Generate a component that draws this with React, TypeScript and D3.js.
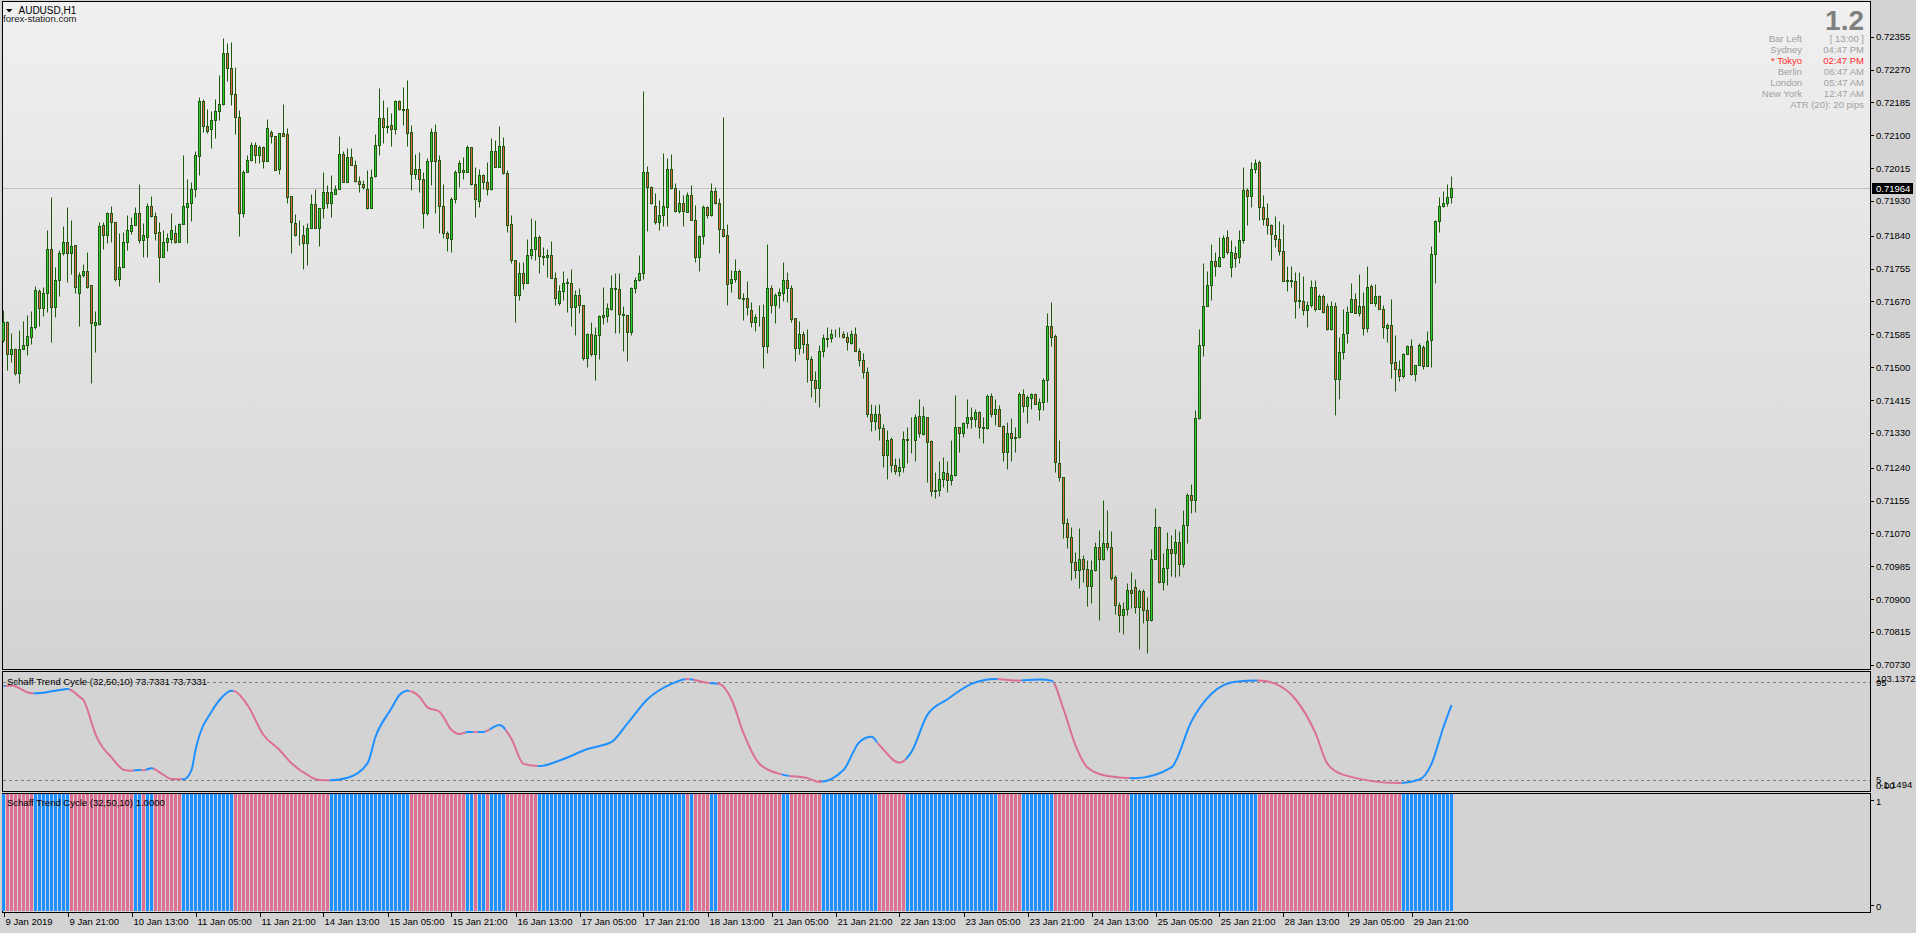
import React, { useEffect } from 'react';
import * as d3 from 'd3';

// ---------- DATA ----------
const symbolTitle = 'AUDUSD,H1';
const brandText = 'forex-station.com';

const opens = [
0.71570,0.71617,0.71535,0.71546,0.71484,0.71548,0.71557,0.71577,0.71603,0.71696,
0.71654,0.71691,0.71805,0.71656,0.71725,0.71796,0.71825,0.71796,0.71815,0.71691,
0.71738,0.71748,0.71712,0.71610,0.71613,0.71867,0.71842,0.71898,0.71876,0.71727,
0.71758,0.71825,0.71853,0.71867,0.71898,0.71830,0.71837,0.71917,0.71892,0.71849,
0.71785,0.71825,0.71832,0.71848,0.71825,0.71870,0.71915,0.71926,0.71962,0.72047,
0.72188,0.72125,0.72115,0.72139,0.72162,0.72182,0.72314,0.72275,0.72206,0.72146,
0.71899,0.72005,0.72036,0.72074,0.72049,0.72069,0.72034,0.72108,0.72098,0.72013,
0.72105,0.72102,0.71944,0.71874,0.71841,0.71843,0.71822,0.71861,0.71923,0.71861,
0.71912,0.71952,0.71925,0.71949,0.71960,0.72051,0.71980,0.72043,0.72024,0.71982,
0.71973,0.71960,0.71913,0.71995,0.72074,0.72144,0.72122,0.72126,0.72117,0.72188,
0.72167,0.72167,0.72108,0.71999,0.72012,0.71986,0.71898,0.72034,0.72109,0.72035,
0.71918,0.71846,0.71831,0.71934,0.72004,0.72010,0.72006,0.72069,0.71973,0.71931,
0.71996,0.71980,0.71960,0.72058,0.72017,0.72071,0.72003,0.71870,0.71776,0.71686,
0.71743,0.71717,0.71791,0.71805,0.71836,0.71788,0.71786,0.71789,0.71732,0.71665,
0.71696,0.71717,0.71717,0.71656,0.71686,0.71662,0.71525,0.71586,0.71533,0.71582,
0.71631,0.71633,0.71650,0.71704,0.71703,0.71637,0.71634,0.71590,0.71704,0.71726,
0.71743,0.72004,0.71967,0.71917,0.71876,0.71895,0.71915,0.72014,0.71963,0.71905,
0.71926,0.71902,0.71945,0.71882,0.71784,0.71840,0.71915,0.71894,0.71956,0.71926,
0.71857,0.71842,0.71717,0.71727,0.71749,0.71678,0.71678,0.71647,0.71616,0.71629,
0.71631,0.71556,0.71706,0.71661,0.71688,0.71693,0.71725,0.71706,0.71626,0.71549,
0.71587,0.71561,0.71520,0.71466,0.71445,0.71541,0.71573,0.71575,0.71585,0.71587,
0.71585,0.71579,0.71562,0.71587,0.71543,0.71518,0.71487,0.71378,0.71362,0.71378,
0.71343,0.71273,0.71313,0.71248,0.71231,0.71242,0.71313,0.71312,0.71311,0.71374,
0.71326,0.71370,0.71309,0.71180,0.71182,0.71211,0.71225,0.71209,0.71221,0.71344,
0.71329,0.71355,0.71372,0.71365,0.71383,0.71344,0.71342,0.71425,0.71380,0.71393,
0.71349,0.71280,0.71329,0.71318,0.71320,0.71430,0.71399,0.71419,0.71430,0.71393,
0.71409,0.71468,0.71606,0.71580,0.71251,0.71217,0.71096,0.71061,0.70995,0.70974,
0.71005,0.70979,0.70935,0.70974,0.71036,0.71005,0.71044,0.71036,0.70956,0.70886,
0.70859,0.70874,0.70924,0.70930,0.70879,0.70922,0.70873,0.70846,0.71005,0.71086,
0.70943,0.70980,0.71029,0.71018,0.71047,0.70990,0.71092,0.71169,0.71156,0.71368,
0.71557,0.71658,0.71713,0.71775,0.71763,0.71784,0.71836,0.71758,0.71795,0.71784,
0.71829,0.71959,0.71943,0.72012,0.72030,0.71915,0.71885,0.71868,0.71842,0.71831,
0.71801,0.71726,0.71725,0.71722,0.71672,0.71672,0.71648,0.71661,0.71707,0.71650,
0.71684,0.71658,0.71598,0.71658,0.71469,0.71540,0.71588,0.71642,0.71676,0.71641,
0.71658,0.71601,0.71710,0.71667,0.71684,0.71650,0.71601,0.71609,0.71514,0.71494,
0.71477,0.71533,0.71555,0.71482,0.71505,0.71551,0.71503,0.71570,0.71792,0.71879,
0.71918,0.71924,0.71939,
];

const highs = [
0.71648,0.71620,0.71589,0.71550,0.71597,0.71619,0.71635,0.71645,0.71710,0.71701,
0.71708,0.71855,0.71941,0.71760,0.71803,0.71865,0.71915,0.71880,0.71815,0.71747,
0.71768,0.71798,0.71712,0.71645,0.71876,0.71876,0.71902,0.71917,0.71876,0.71848,
0.71851,0.71893,0.71889,0.71915,0.71975,0.71872,0.71924,0.71942,0.71902,0.71876,
0.71855,0.71846,0.71899,0.71869,0.71874,0.72049,0.71988,0.71980,0.72060,0.72200,
0.72195,0.72169,0.72163,0.72195,0.72256,0.72351,0.72338,0.72341,0.72277,0.72165,
0.72010,0.72049,0.72083,0.72083,0.72074,0.72072,0.72143,0.72113,0.72098,0.72105,
0.72181,0.72120,0.71944,0.71896,0.71882,0.71869,0.71874,0.71949,0.71962,0.71911,
0.72004,0.71971,0.71997,0.71971,0.72098,0.72060,0.72066,0.72068,0.72036,0.71995,
0.71984,0.72010,0.72012,0.72103,0.72221,0.72190,0.72172,0.72157,0.72191,0.72191,
0.72224,0.72243,0.72127,0.72051,0.72057,0.72006,0.72040,0.72118,0.72129,0.72049,
0.71974,0.71853,0.71939,0.72010,0.72036,0.72043,0.72075,0.72070,0.72017,0.72014,
0.72000,0.72032,0.72092,0.72088,0.72124,0.72095,0.72010,0.71894,0.71776,0.71773,
0.71773,0.71832,0.71885,0.71881,0.71842,0.71810,0.71807,0.71826,0.71746,0.71713,
0.71749,0.71731,0.71753,0.71700,0.71704,0.71662,0.71588,0.71616,0.71605,0.71635,
0.71708,0.71667,0.71739,0.71744,0.71743,0.71657,0.71635,0.71707,0.71734,0.71790,
0.72215,0.72020,0.71969,0.71950,0.71933,0.72055,0.72040,0.72052,0.71976,0.71958,
0.71945,0.71952,0.71971,0.71920,0.71842,0.71920,0.71917,0.71976,0.71967,0.71937,
0.72148,0.71870,0.71751,0.71779,0.71754,0.71691,0.71723,0.71669,0.71637,0.71661,
0.71663,0.71819,0.71713,0.71693,0.71704,0.71771,0.71747,0.71713,0.71626,0.71619,
0.71593,0.71599,0.71530,0.71490,0.71557,0.71586,0.71605,0.71600,0.71598,0.71604,
0.71593,0.71590,0.71596,0.71603,0.71549,0.71536,0.71501,0.71406,0.71402,0.71404,
0.71352,0.71337,0.71320,0.71264,0.71264,0.71336,0.71346,0.71370,0.71380,0.71418,
0.71400,0.71372,0.71311,0.71230,0.71257,0.71268,0.71257,0.71311,0.71428,0.71346,
0.71359,0.71417,0.71398,0.71393,0.71387,0.71372,0.71431,0.71434,0.71417,0.71402,
0.71350,0.71359,0.71368,0.71344,0.71437,0.71443,0.71428,0.71432,0.71432,0.71421,
0.71473,0.71640,0.71669,0.71585,0.71311,0.71217,0.71109,0.71087,0.71021,0.71085,
0.71014,0.71000,0.71000,0.71047,0.71079,0.71156,0.71131,0.71076,0.70962,0.70893,
0.70892,0.70941,0.70969,0.70951,0.70925,0.70925,0.70906,0.71029,0.71135,0.71089,
0.71018,0.71074,0.71066,0.71081,0.71077,0.71131,0.71174,0.71197,0.71389,0.71598,
0.71769,0.71750,0.71819,0.71799,0.71836,0.71842,0.71855,0.71829,0.71814,0.71855,
0.72019,0.71963,0.72032,0.72039,0.72036,0.71946,0.71924,0.71871,0.71890,0.71877,
0.71871,0.71762,0.71762,0.71745,0.71747,0.71736,0.71670,0.71726,0.71726,0.71689,
0.71689,0.71667,0.71670,0.71669,0.71579,0.71651,0.71657,0.71717,0.71691,0.71740,
0.71695,0.71762,0.71715,0.71715,0.71686,0.71661,0.71615,0.71676,0.71583,0.71519,
0.71536,0.71557,0.71572,0.71505,0.71563,0.71557,0.71594,0.71814,0.71881,0.71941,
0.71955,0.71974,0.71995,
];

const lows = [
0.71566,0.71492,0.71514,0.71479,0.71459,0.71546,0.71531,0.71561,0.71600,0.71607,
0.71632,0.71643,0.71566,0.71629,0.71685,0.71790,0.71721,0.71742,0.71691,0.71607,
0.71734,0.71704,0.71459,0.71540,0.71610,0.71805,0.71820,0.71824,0.71723,0.71710,
0.71758,0.71803,0.71844,0.71867,0.71820,0.71785,0.71785,0.71889,0.71829,0.71721,
0.71785,0.71801,0.71820,0.71822,0.71823,0.71870,0.71822,0.71879,0.71941,0.71997,
0.72109,0.72106,0.72068,0.72092,0.72139,0.72178,0.72241,0.72178,0.72103,0.71839,
0.71889,0.72005,0.72034,0.72029,0.72029,0.72016,0.72034,0.72081,0.72010,0.71999,
0.72098,0.71925,0.71796,0.71839,0.71816,0.71754,0.71764,0.71861,0.71859,0.71813,
0.71887,0.71911,0.71889,0.71949,0.71960,0.71980,0.71980,0.72024,0.71980,0.71954,
0.71962,0.71908,0.71911,0.71993,0.72050,0.72081,0.72107,0.72073,0.72103,0.72165,
0.72127,0.72073,0.71958,0.71986,0.71954,0.71859,0.71895,0.71972,0.71900,0.71846,
0.71835,0.71801,0.71799,0.71924,0.71965,0.71986,0.72006,0.71971,0.71888,0.71915,
0.71961,0.71945,0.71958,0.72017,0.72017,0.72000,0.71851,0.71769,0.71618,0.71675,
0.71702,0.71717,0.71779,0.71777,0.71744,0.71764,0.71734,0.71730,0.71662,0.71661,
0.71674,0.71642,0.71607,0.71583,0.71639,0.71518,0.71500,0.71529,0.71468,0.71520,
0.71613,0.71616,0.71648,0.71588,0.71588,0.71543,0.71517,0.71583,0.71693,0.71724,
0.71727,0.71853,0.71922,0.71870,0.71855,0.71865,0.71865,0.71961,0.71902,0.71898,
0.71865,0.71902,0.71881,0.71773,0.71750,0.71819,0.71885,0.71891,0.71922,0.71796,
0.71838,0.71662,0.71695,0.71721,0.71676,0.71621,0.71635,0.71605,0.71594,0.71607,
0.71499,0.71537,0.71639,0.71615,0.71654,0.71671,0.71669,0.71618,0.71516,0.71535,
0.71537,0.71462,0.71424,0.71411,0.71398,0.71527,0.71553,0.71564,0.71578,0.71578,
0.71575,0.71544,0.71560,0.71542,0.71504,0.71471,0.71372,0.71336,0.71337,0.71311,
0.71242,0.71210,0.71228,0.71223,0.71219,0.71230,0.71251,0.71277,0.71258,0.71320,
0.71324,0.71204,0.71167,0.71161,0.71167,0.71191,0.71176,0.71195,0.71219,0.71281,
0.71320,0.71342,0.71343,0.71346,0.71318,0.71305,0.71340,0.71372,0.71350,0.71347,
0.71258,0.71236,0.71258,0.71281,0.71318,0.71385,0.71355,0.71391,0.71404,0.71363,
0.71389,0.71411,0.71555,0.71228,0.71205,0.71059,0.71033,0.70949,0.70955,0.70929,
0.70945,0.70883,0.70891,0.70972,0.70846,0.71001,0.71027,0.70949,0.70861,0.70814,
0.70809,0.70859,0.70876,0.70863,0.70771,0.70837,0.70760,0.70844,0.71003,0.70941,
0.70924,0.70936,0.70960,0.70958,0.70960,0.70984,0.71046,0.71122,0.71126,0.71365,
0.71530,0.71657,0.71674,0.71736,0.71760,0.71782,0.71792,0.71734,0.71760,0.71770,
0.71822,0.71868,0.71914,0.72003,0.71881,0.71868,0.71845,0.71776,0.71810,0.71790,
0.71724,0.71698,0.71708,0.71628,0.71652,0.71635,0.71605,0.71655,0.71646,0.71650,
0.71641,0.71596,0.71596,0.71376,0.71417,0.71520,0.71563,0.71642,0.71639,0.71632,
0.71583,0.71592,0.71667,0.71657,0.71650,0.71575,0.71566,0.71471,0.71439,0.71465,
0.71473,0.71533,0.71480,0.71465,0.71505,0.71495,0.71503,0.71500,0.71717,0.71851,
0.71914,0.71918,0.71924,
];

const closes = [
0.71617,0.71535,0.71546,0.71484,0.71548,0.71557,0.71580,0.71603,0.71699,0.71654,
0.71691,0.71805,0.71656,0.71725,0.71796,0.71825,0.71796,0.71813,0.71708,0.71738,
0.71748,0.71708,0.71615,0.71617,0.71865,0.71841,0.71898,0.71876,0.71727,0.71758,
0.71825,0.71855,0.71867,0.71898,0.71830,0.71842,0.71917,0.71892,0.71848,0.71785,
0.71825,0.71833,0.71856,0.71823,0.71870,0.71917,0.71926,0.71962,0.72049,0.72188,
0.72124,0.72112,0.72139,0.72162,0.72182,0.72314,0.72275,0.72206,0.72148,0.71899,
0.72005,0.72036,0.72074,0.72049,0.72069,0.72034,0.72118,0.72098,0.72011,0.72105,
0.72099,0.71941,0.71876,0.71841,0.71843,0.71822,0.71861,0.71922,0.71861,0.71911,
0.71952,0.71925,0.71952,0.71960,0.72051,0.71980,0.72043,0.72024,0.71982,0.71973,
0.71965,0.71913,0.71993,0.72074,0.72144,0.72122,0.72125,0.72117,0.72188,0.72167,
0.72166,0.72105,0.71999,0.72012,0.71986,0.71898,0.72033,0.72108,0.72033,0.71918,
0.71846,0.71833,0.71934,0.72004,0.72027,0.72006,0.72069,0.71973,0.71934,0.71996,
0.71980,0.71960,0.72058,0.72019,0.72071,0.72002,0.71867,0.71776,0.71686,0.71743,
0.71717,0.71789,0.71805,0.71836,0.71788,0.71786,0.71790,0.71732,0.71678,0.71696,
0.71719,0.71720,0.71656,0.71686,0.71662,0.71525,0.71586,0.71533,0.71582,0.71632,
0.71634,0.71652,0.71704,0.71702,0.71637,0.71635,0.71590,0.71704,0.71726,0.71743,
0.72004,0.71967,0.71924,0.71876,0.71895,0.71917,0.72014,0.71963,0.71905,0.71924,
0.71903,0.71945,0.71881,0.71786,0.71840,0.71915,0.71895,0.71956,0.71924,0.71857,
0.71839,0.71714,0.71727,0.71749,0.71678,0.71677,0.71656,0.71616,0.71629,0.71631,
0.71556,0.71706,0.71661,0.71688,0.71694,0.71725,0.71706,0.71625,0.71550,0.71586,
0.71561,0.71520,0.71466,0.71445,0.71541,0.71575,0.71576,0.71586,0.71587,0.71586,
0.71579,0.71564,0.71587,0.71543,0.71518,0.71487,0.71378,0.71362,0.71378,0.71342,
0.71273,0.71311,0.71248,0.71231,0.71242,0.71313,0.71312,0.71311,0.71370,0.71329,
0.71374,0.71307,0.71180,0.71182,0.71211,0.71228,0.71209,0.71221,0.71344,0.71329,
0.71355,0.71372,0.71365,0.71383,0.71346,0.71343,0.71425,0.71380,0.71393,0.71349,
0.71280,0.71329,0.71318,0.71320,0.71430,0.71399,0.71422,0.71430,0.71406,0.71409,
0.71468,0.71606,0.71577,0.71254,0.71215,0.71096,0.71061,0.70995,0.70974,0.71005,
0.70979,0.70935,0.70974,0.71034,0.71005,0.71046,0.71036,0.70954,0.70885,0.70859,
0.70874,0.70924,0.70917,0.70879,0.70922,0.70873,0.70846,0.71005,0.71086,0.70943,
0.70980,0.71029,0.71018,0.71047,0.70990,0.71092,0.71169,0.71156,0.71368,0.71557,
0.71658,0.71713,0.71775,0.71763,0.71784,0.71833,0.71799,0.71797,0.71782,0.71829,
0.71959,0.71943,0.72012,0.72029,0.71915,0.71883,0.71868,0.71844,0.71831,0.71801,
0.71724,0.71724,0.71723,0.71672,0.71674,0.71648,0.71661,0.71707,0.71650,0.71684,
0.71644,0.71598,0.71658,0.71469,0.71540,0.71586,0.71642,0.71676,0.71639,0.71658,
0.71601,0.71708,0.71667,0.71684,0.71650,0.71603,0.71609,0.71512,0.71494,0.71476,
0.71533,0.71555,0.71482,0.71505,0.71557,0.71503,0.71569,0.71792,0.71879,0.71918,
0.71924,0.71939,0.71963,
];

const priceTicks = [0.72355, 0.72270, 0.72185, 0.72100, 0.72015, 0.71930, 0.71840, 0.71755, 0.71670, 0.71585,
  0.71500, 0.71415, 0.71330, 0.71240, 0.71155, 0.71070, 0.70985, 0.70900, 0.70815, 0.70730];
const lastPrice = 0.71964;

const timeLabels = ['9 Jan 2019', '9 Jan 21:00', '10 Jan 13:00', '11 Jan 05:00', '11 Jan 21:00', '14 Jan 13:00',
  '15 Jan 05:00', '15 Jan 21:00', '16 Jan 13:00', '17 Jan 05:00', '17 Jan 21:00', '18 Jan 13:00', '21 Jan 05:00',
  '21 Jan 21:00', '22 Jan 13:00', '23 Jan 05:00', '23 Jan 21:00', '24 Jan 13:00', '25 Jan 05:00', '25 Jan 21:00',
  '28 Jan 13:00', '29 Jan 05:00', '29 Jan 21:00'];
const timeLabelStep = 16; // bars between time labels

// Schaff Trend Cycle line samples (bar index, value)
const stcBars = [0, 2, 7, 10, 15, 16, 19, 20, 22, 23, 25, 27, 29, 30, 32, 34, 35, 37, 40, 42, 45, 47, 48, 49, 52, 54,
  57, 58, 61, 65, 69, 72, 76, 79, 82, 86, 91, 93, 97, 99, 101, 104, 106, 109, 112, 114, 116, 120, 124, 127, 130, 134,
  140, 146, 152, 156, 161, 167, 171, 176, 179, 182, 185, 189, 195, 201, 204, 210, 214, 217, 219, 224, 227, 231, 236,
  242, 248, 253, 259, 262, 265, 268, 271, 276, 283, 292, 297, 302, 308, 314, 318, 323, 328, 331, 335, 349, 354, 357,
  360, 362];
const stcValues = [91, 91.5, 84.4, 85, 88, 88.3, 81.3, 78.3, 58, 47, 34, 26, 17.4, 14.6, 13.8, 14.4, 14.3, 16, 9.9,
  6.2, 5.9, 14.4, 32.7, 46.4, 67.6, 78.3, 86.8, 86, 73.7, 46.4, 32.7, 20.5, 9.9, 5.3, 5.1, 7.4, 20.5, 44.8, 70.7, 82.9,
  86.8, 81.3, 71.6, 67.6, 50.9, 47.3, 49, 49.2, 55.5, 42.7, 20, 18, 24.5, 33.6, 40, 57, 79, 93, 97.5, 94, 93, 79, 48,
  20, 10, 7, 3.5, 14.4, 40, 44.7, 37, 21, 31, 65, 79, 93, 97.5, 96, 97, 96, 70, 37, 16.8, 9, 7, 16.8, 59, 84, 95, 96,
  93, 79, 48, 20, 10, 2.5, 5.7, 20, 53.7, 73.7];

// Colour of each bar of the STC histogram (up = rising, down = falling), as runs of bars
const stcTrendRuns: [string, number][] = [
  ['up', 1], ['down', 7], ['up', 9], ['down', 16], ['up', 2], ['down', 1], ['up', 2], ['down', 7], ['up', 13],
  ['down', 24], ['up', 20], ['down', 14], ['up', 2], ['down', 1], ['up', 2], ['down', 1], ['up', 4], ['down', 8],
  ['up', 37], ['down', 1], ['up', 1], ['down', 4], ['up', 2], ['down', 16], ['up', 2], ['down', 8], ['up', 14],
  ['down', 7], ['up', 23], ['down', 6], ['up', 8], ['down', 19], ['up', 32], ['down', 36], ['up', 13]];

const stcRange = [-1.1494, 103.1372];
const stcLevels = [95, 5];
const stcLabel = 'Schaff Trend Cycle (32,50,10) 73.7331 73.7331';
const histLabel = 'Schaff Trend Cycle (32,50,10) 1.0000';

const infoBig = '1.2';
const infoRows: [string, string, boolean][] = [
  ['Bar Left', '[ 13:00 ]', false],
  ['Sydney', '04:47 PM', false],
  ['* Tokyo', '02:47 PM', true],
  ['Berlin', '06:47 AM', false],
  ['London', '05:47 AM', false],
  ['New York', '12:47 AM', false],
];
const atrText = 'ATR (20): 20 pips';

// ---------- STYLE ----------
const FONT = "'Liberation Sans', Arial, sans-serif";
const BLUE = '#1e90ff';
const PINK = '#db7093';
const OUTLINE = '#1f5a0e';
const BULL = '#32cd32';
const BEAR = '#e2624b';

export default function App() {
  useEffect(() => {
    document.body.style.margin = '0';
  }, []);

  const n = closes.length;
  const x = d3.scaleLinear().domain([0, n - 1]).range([3.5, 3.5 + 4 * (n - 1)]);
  const y = d3.scaleLinear().domain([0.7073, 0.72355]).range([664.8, 36.7]);
  const yStc = d3.scaleLinear().domain(stcRange).range([787.06, 672.8]);

  const runs: { d: string; a: number; b: number }[] = [];
  let acc = 0;
  stcTrendRuns.forEach(([d, c]) => {
    runs.push({ d, a: acc, b: acc + c - 1 });
    acc += c;
  });
  const dirs: string[] = [];
  runs.forEach((r) => { for (let k = r.a; k <= r.b; k++) dirs.push(r.d); });

  const stcLine = d3.line<number>()
    .x((_, k) => x(stcBars[k]))
    .y((v) => yStc(v))
    .curve(d3.curveMonotoneX);
  const stcPath = stcLine(stcValues) || '';

  const pr = (v: number) => Math.round(v) + 0.5;

  const candles = closes.map((c, i) => {
    const o = opens[i];
    const cx = x(i);
    const yh = pr(y(highs[i]));
    const yl = pr(y(lows[i]));
    const yTop = pr(y(Math.max(o, c)));
    const yBot = pr(y(Math.min(o, c)));
    const bull = c >= o;
    return (
      <g key={i}>
        <line x1={cx} x2={cx} y1={yh} y2={yl} stroke={OUTLINE} strokeWidth={1} />
        <rect x={cx - 1} y={yTop} width={2} height={Math.max(0, yBot - yTop)} fill={bull ? BULL : BEAR}
          stroke={OUTLINE} strokeWidth={1} />
      </g>
    );
  });

  const lastY = pr(y(lastPrice));

  return (
    <svg width={1916} height={933} style={{ display: 'block', position: 'absolute', left: 0, top: 0 }}
      fontFamily={FONT}>
      <defs>
        <linearGradient id="bg" x1="0" y1="0" x2="0" y2="1">
          <stop offset="0" stopColor="#f0f0f0" />
          <stop offset="1" stopColor="#d3d3d3" />
        </linearGradient>
        <clipPath id="clipUp">
          {runs.filter((r) => r.d === 'up').map((r, k) => (
            <rect key={k} x={x(r.a) - 2} y={660} width={x(r.b) - x(r.a) + 4} height={140} />
          ))}
        </clipPath>
        <clipPath id="clipDown">
          {runs.filter((r) => r.d === 'down').map((r, k) => (
            <rect key={k} x={x(r.a) - 2} y={660} width={x(r.b) - x(r.a) + 4} height={140} />
          ))}
        </clipPath>
        <clipPath id="clipStcPane">
          <rect x={3} y={672} width={1867} height={119} />
        </clipPath>
      </defs>

      <rect x={0} y={0} width={1916} height={933} fill="#d3d3d3" />

      {/* main pane */}
      <rect x={2.5} y={1.5} width={1868} height={668} fill="url(#bg)" stroke="#000" strokeWidth={1} />
      <line x1={3} x2={1870} y1={lastY} y2={lastY} stroke="#c0c0c0" strokeWidth={1} />
      {candles}

      {/* title */}
      <path d="M6,9 L12.5,9 L9.25,12.5 Z" fill="#000" />
      <text x={18.5} y={13.5} fontSize={10} fill="#000">{symbolTitle}</text>
      <text x={3} y={21.5} fontSize={9.6} fill="#1a1a1a">{brandText}</text>

      {/* info panel */}
      <text x={1864} y={30} fontSize={28} fontWeight="bold" fill="#808080" textAnchor="end">{infoBig}</text>
      {infoRows.map(([lab, val, hot], k) => (
        <g key={k} fontSize={9.5} fill={hot ? '#ff2a2a' : '#a0a0a0'}>
          <text x={1802} y={41.8 + k * 11.08} textAnchor="end">{lab}</text>
          <text x={1864} y={41.8 + k * 11.08} textAnchor="end">{val}</text>
        </g>
      ))}
      <text x={1864} y={41.8 + 6 * 11.08} textAnchor="end" fontSize={9.5} fill="#a0a0a0">{atrText}</text>

      {/* price axis */}
      {priceTicks.map((p, k) => (
        <g key={k}>
          <line x1={1871} x2={1874} y1={pr(y(p))} y2={pr(y(p))} stroke="#000" />
          <text x={1876} y={y(p) + 3.5} fontSize={9.5} fill="#000">{p.toFixed(5)}</text>
        </g>
      ))}
      <rect x={1872} y={lastY - 5.5} width={41} height={11} fill="#000" />
      <text x={1876} y={lastY + 3.5} fontSize={9.5} fill="#fff">{lastPrice.toFixed(5)}</text>

      {/* STC line pane */}
      <rect x={2.5} y={671.5} width={1868} height={120} fill="#d3d3d3" stroke="#000" strokeWidth={1} />
      {stcLevels.map((lv, k) => (
        <line key={k} x1={3} x2={1870} y1={pr(yStc(lv))} y2={pr(yStc(lv))} stroke="#808080" strokeDasharray="3,3" />
      ))}
      <g clipPath="url(#clipStcPane)">
        <path d={stcPath} fill="none" stroke={BLUE} strokeWidth={2} clipPath="url(#clipUp)" />
        <path d={stcPath} fill="none" stroke={PINK} strokeWidth={2} clipPath="url(#clipDown)" />
      </g>
      <text x={7} y={684.5} fontSize={9.5} fill="#000">{stcLabel}</text>
      <text x={1876} y={681.5} fontSize={9.5} fill="#000">{stcRange[1].toFixed(4)}</text>
      <text x={1876} y={685.5} fontSize={9.5} fill="#000">{String(stcLevels[0])}</text>
      <text x={1876} y={782.5} fontSize={9.5} fill="#000">{String(stcLevels[1])}</text>
      <text x={1876} y={788.5} fontSize={9.5} fill="#000">0.00</text>
      <text x={1880} y={788} fontSize={9.5} fill="#000">{stcRange[0].toFixed(4)}</text>

      {/* STC histogram pane */}
      <rect x={2.5} y={793.5} width={1868} height={119} fill="#d3d3d3" stroke="#000" strokeWidth={1} />
      {dirs.map((d, i) => (
        <rect key={i} x={x(i) - 1.5} y={794} width={3} height={117} fill={d === 'up' ? BLUE : PINK} />
      ))}
      <text x={7} y={806} fontSize={9.5} fill="#000">{histLabel}</text>
      <line x1={1871} x2={1874} y1={800.5} y2={800.5} stroke="#000" />
      <text x={1876} y={804.5} fontSize={9.5} fill="#000">1</text>
      <line x1={1871} x2={1874} y1={905.5} y2={905.5} stroke="#000" />
      <text x={1876} y={909.5} fontSize={9.5} fill="#000">0</text>

      {/* time axis */}
      {timeLabels.map((t, k) => {
        const tx = Math.round(x(k * timeLabelStep)) + 0.5;
        return (
          <g key={k}>
            <line x1={tx} x2={tx} y1={913} y2={917} stroke="#000" />
            <text x={tx + 1} y={925} fontSize={9.5} fill="#000">{t}</text>
          </g>
        );
      })}
    </svg>
  );
}
